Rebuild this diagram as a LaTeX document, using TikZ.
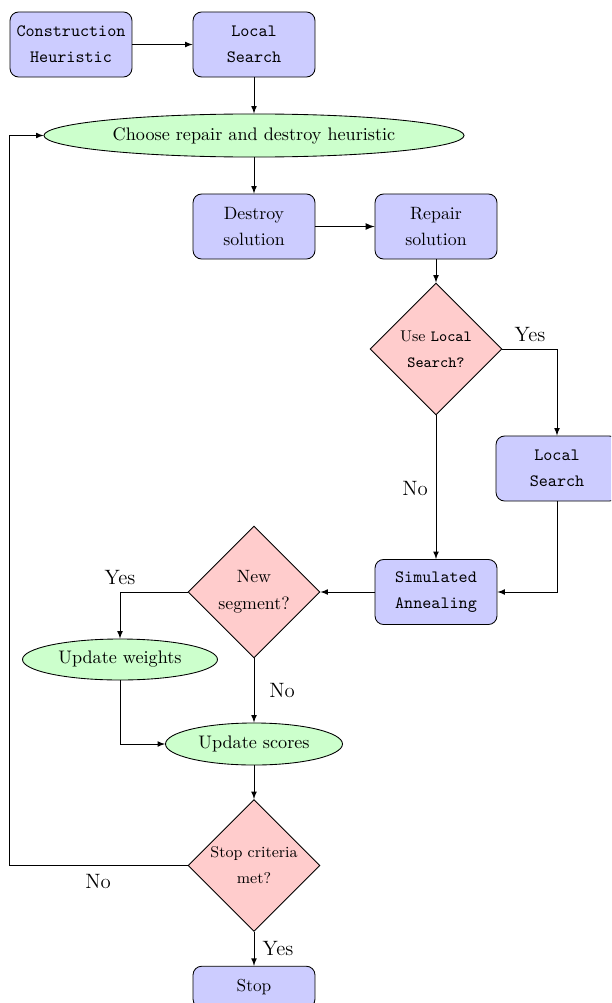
\documentclass[tikz,border=0pt]{standalone}
\usetikzlibrary{shapes.geometric,arrows}
\begin{document}
\begin{tikzpicture}[x=0.578pt,y=-0.578pt, line width=0.5pt,
  arr/.style={-latex},
  blk/.style={draw, rounded corners=5pt, fill=blue!20, minimum width=70.5pt, minimum height=37.6pt, align=center, inner sep=2pt},
  ell/.style={draw, ellipse, fill=green!20, inner sep=0pt, align=center, font=\fontsize{10.5pt}{12.6pt}\selectfont},
  dia/.style={draw, diamond, fill=red!20, minimum width=76.3pt, minimum height=76.3pt, inner sep=0pt, align=center},
  big/.style={font=\fontsize{10.3pt}{12.4pt}\selectfont},
  lbl/.style={font=\large, inner sep=0pt}]
\useasboundingbox (0,0) rectangle (611,1003);
\clip (0,0) rectangle (611,1003);
\node[blk] (ch) at (71,44.5) {\texttt{Construction}\\[3pt]\texttt{Heuristic}};
\node[blk] (ls1) at (254,44.5) {\texttt{Local}\\[3pt]\texttt{Search}};
\node[ell, minimum width=242.8pt, minimum height=24.9pt] (choose) at (254,135.5) {Choose repair and destroy heuristic};
\node[blk, big] (des) at (254,226.5) {Destroy\\[3pt]solution};
\node[blk, big] (rep) at (436,226.5) {Repair\\[3pt]solution};
\node[dia] (d1) at (436,349) {\small Use \texttt{Local}\\[3pt]\small\texttt{Search?}};
\node[blk] (ls2) at (557,468.5) {\texttt{Local}\\[3pt]\texttt{Search}};
\node[blk] (sa) at (436,592) {\texttt{Simulated}\\[3pt]\texttt{Annealing}};
\node[dia, big] (d2) at (254,592) {New\\[3pt]segment?};
\node[ell, minimum width=112.7pt, minimum height=23.7pt] (uw) at (120,659.5) {Update weights};
\node[ell, minimum width=102.3pt, minimum height=24.3pt] (us) at (254,744) {Update scores};
\node[dia] (d3) at (254,865.5) {\small Stop criteria\\[3pt]\small met?};
\node[blk, minimum height=24pt] (stop) at (254,987) {Stop};
\coordinate (loop) at (9,865.5);
\draw[arr] (ch) -- (ls1);
\draw[arr] (ls1) -- (choose);
\draw[arr] (choose) -- (des);
\draw[arr, line width=0.8pt] (des) -- (rep);
\draw[arr] (rep) -- (d1);
\draw[arr] (d1.east) -| (ls2.north);
\draw[arr] (d1.south) -- (sa.north);
\draw[arr] (ls2.south) |- (sa.east);
\draw[arr] (sa.west) -- (d2.east);
\draw[arr] (d2.west) -| (uw.north);
\draw[arr] (d2.south) -- (us.north);
\draw[arr] (uw.south) |- (us.west);
\draw[arr] (us.south) -- (d3.north);
\draw[arr] (d3.west) -- (loop) |- (choose.west);
\draw[arr] (d3.south) -- (stop.north);
\node[lbl] (y1) at (530,335) {Yes};
\node[lbl] (n1) at (415,489) {No};
\node[lbl] (y2) at (120,578) {Yes};
\node[lbl] (n2) at (282,691) {No};
\node[lbl] (n3) at (98,882) {No};
\node[lbl] (y3) at (278,949) {Yes};
\end{tikzpicture}
\end{document}
